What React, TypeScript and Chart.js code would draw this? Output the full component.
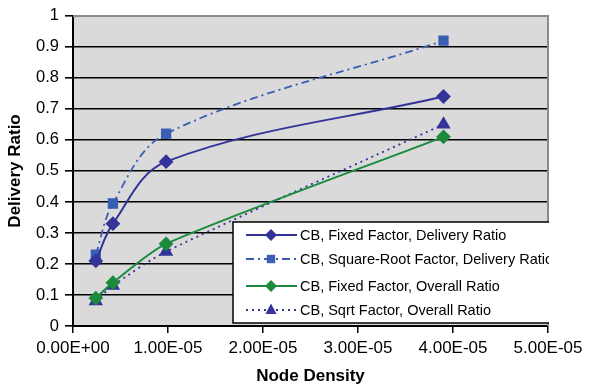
import React, { useEffect, useRef } from "react";
import { Chart, registerables } from "chart.js";

Chart.register(...registerables);

const densities = [2.4e-6, 4.2e-6, 9.8e-6, 3.9e-5];
const fixedDelivery = [0.21, 0.33, 0.53, 0.74];
const sqrtDelivery = [0.23, 0.395, 0.62, 0.92];
const fixedOverall = [0.09, 0.14, 0.265, 0.61];
const sqrtOverall = [0.08, 0.13, 0.24, 0.65];
const xTickValues = [0, 1e-5, 2e-5, 3e-5, 4e-5, 5e-5];
const seriesNames = [
  "CB, Fixed Factor, Delivery Ratio",
  "CB, Square-Root Factor, Delivery Ratio",
  "CB, Fixed Factor, Overall Ratio",
  "CB, Sqrt Factor, Overall Ratio",
];

const FONT = "Arial, 'Liberation Sans', sans-serif";

function fmtExp(v: number): string {
  if (v === 0) return "0.00E+00";
  const [m, e] = v.toExponential(2).split("e");
  const n = parseInt(e, 10);
  const sign = n < 0 ? "-" : "+";
  const abs = Math.abs(n).toString().padStart(2, "0");
  return `${m}E${sign}${abs}`;
}

const bgPlugin = {
  id: "bgPlugin",
  beforeDraw(chart: any) {
    const { ctx, chartArea: a } = chart;
    ctx.save();
    ctx.fillStyle = "#dadada";
    ctx.fillRect(a.left, a.top, a.right - a.left, a.bottom - a.top);
    ctx.restore();
  },
  afterDraw(chart: any) {
    const { ctx, chartArea: a } = chart;
    ctx.save();
    ctx.strokeStyle = "#8a8a8a";
    ctx.lineWidth = 2;
    ctx.beginPath();
    ctx.moveTo(a.left, a.top);
    ctx.lineTo(a.right, a.top);
    ctx.lineTo(a.right, a.bottom);
    ctx.stroke();
    // legend
    ctx.beginPath();
    ctx.rect(a.left, a.top, a.right - a.left + 1, a.bottom - a.top);
    ctx.clip();
    const lx = 233, ly = 222, lw = 330, lh = 101;
    ctx.fillStyle = "#ffffff";
    ctx.fillRect(lx, ly, lw, lh);
    ctx.strokeStyle = "#000000";
    ctx.lineWidth = 1.5;
    ctx.strokeRect(lx, ly, lw, lh);
    const rows = [235, 259, 286, 310];
    chart.data.datasets.forEach((ds: any, i: number) => {
      const y = rows[i];
      ctx.save();
      ctx.strokeStyle = ds.borderColor;
      ctx.lineWidth = ds.borderWidth;
      ctx.setLineDash(ds.borderDash || []);
      ctx.beginPath();
      ctx.moveTo(246, y);
      ctx.lineTo(297, y);
      ctx.stroke();
      ctx.restore();
      ctx.save();
      ctx.fillStyle = ds.pointBackgroundColor;
      const cx = 271;
      const r = ds.pointRadius;
      ctx.beginPath();
      if (ds.pointStyle === "rectRot") {
        ctx.moveTo(cx, y - r); ctx.lineTo(cx + r, y); ctx.lineTo(cx, y + r); ctx.lineTo(cx - r, y);
      } else if (ds.pointStyle === "rect") {
        ctx.rect(cx - r * 0.7, y - r * 0.7, r * 1.4, r * 1.4);
      } else {
        ctx.moveTo(cx, y - r); ctx.lineTo(cx + r * 0.85, y + r * 0.6); ctx.lineTo(cx - r * 0.85, y + r * 0.6);
      }
      ctx.closePath();
      ctx.fill();
      ctx.restore();
      ctx.fillStyle = "#000";
      ctx.font = `14.5px ${FONT}`;
      ctx.textBaseline = "middle";
      ctx.textAlign = "left";
      ctx.fillText(seriesNames[i], 300, y + 1);
    });
    ctx.restore();
  },
};

export default function App() {
  const ref = useRef<HTMLCanvasElement>(null);
  useEffect(() => {
    document.body.style.margin = "0";
    const mk = (ys: number[]) => densities.map((x, i) => ({ x, y: ys[i] }));
    const chart = new Chart(ref.current!, {
      type: "line",
      data: {
        datasets: [
          {
            label: seriesNames[0],
            data: mk(fixedDelivery),
            borderColor: "#333399",
            backgroundColor: "#333399",
            pointBackgroundColor: "#333399",
            pointBorderColor: "#333399",
            borderWidth: 2,
            pointStyle: "rectRot",
            pointRadius: 6,
            tension: 0.35,
          },
          {
            label: seriesNames[1],
            data: mk(sqrtDelivery),
            borderColor: "#3a5eb4",
            backgroundColor: "#3a5eb4",
            pointBackgroundColor: "#3a5eb4",
            pointBorderColor: "#3a5eb4",
            borderWidth: 1.8,
            borderDash: [8, 4, 2, 4],
            pointStyle: "rect",
            pointRadius: 6,
            tension: 0.35,
          },
          {
            label: seriesNames[2],
            data: mk(fixedOverall),
            borderColor: "#1b8a3c",
            backgroundColor: "#1b8a3c",
            pointBackgroundColor: "#1b8a3c",
            pointBorderColor: "#1b8a3c",
            borderWidth: 2,
            pointStyle: "rectRot",
            pointRadius: 6,
            tension: 0.25,
          },
          {
            label: seriesNames[3],
            data: mk(sqrtOverall),
            borderColor: "#333399",
            backgroundColor: "#333399",
            pointBackgroundColor: "#333399",
            pointBorderColor: "#333399",
            borderWidth: 1.8,
            borderDash: [2, 4],
            pointStyle: "triangle",
            pointRadius: 6.5,
            tension: 0.25,
          },
        ],
      },
      options: {
        responsive: false,
        animation: false,
        layout: { padding: { top: 14, right: 45, left: 0, bottom: 0 } },
        plugins: { legend: { display: false }, tooltip: { enabled: false } },
        scales: {
          x: {
            type: "linear",
            min: 0,
            max: 5e-5,
            afterFit: (s: any) => { s.height = 63; },
            afterBuildTicks: (s: any) => {
              s.ticks = xTickValues.map((v) => ({ value: v }));
            },
            ticks: {
              color: "#000",
              font: { family: FONT, size: 17 },
              padding: 5,
              maxRotation: 0,
              autoSkip: false,
              callback: (v: any) => fmtExp(Number(v)),
            },
            grid: { drawOnChartArea: false, drawTicks: true, tickLength: 7, color: "#000", lineWidth: 1.5 },
            border: { color: "#000", width: 2 },
            title: {
              display: true,
              text: "Node Density",
              color: "#000",
              font: { family: FONT, size: 17, weight: "bold" },
              padding: { top: 4, bottom: 2 },
            },
          },
          y: {
            min: 0,
            max: 1,
            afterFit: (s: any) => { s.width = 73; },
            ticks: {
              stepSize: 0.1,
              color: "#000",
              font: { family: FONT, size: 16.5 },
              padding: 6,
              callback: (v: any) => String(Math.round(Number(v) * 10) / 10),
            },
            grid: { color: "#000", lineWidth: 1.6, tickLength: 8 },
            border: { color: "#000", width: 2 },
            title: {
              display: true,
              text: "Delivery Ratio",
              color: "#000",
              font: { family: FONT, size: 17, weight: "bold" },
              padding: { top: 5, bottom: 4 },
            },
          },
        },
      },
      plugins: [bgPlugin],
    } as any);
    return () => chart.destroy();
  }, []);
  return <canvas ref={ref} width={593} height={389} style={{ display: "block" }} />;
}
